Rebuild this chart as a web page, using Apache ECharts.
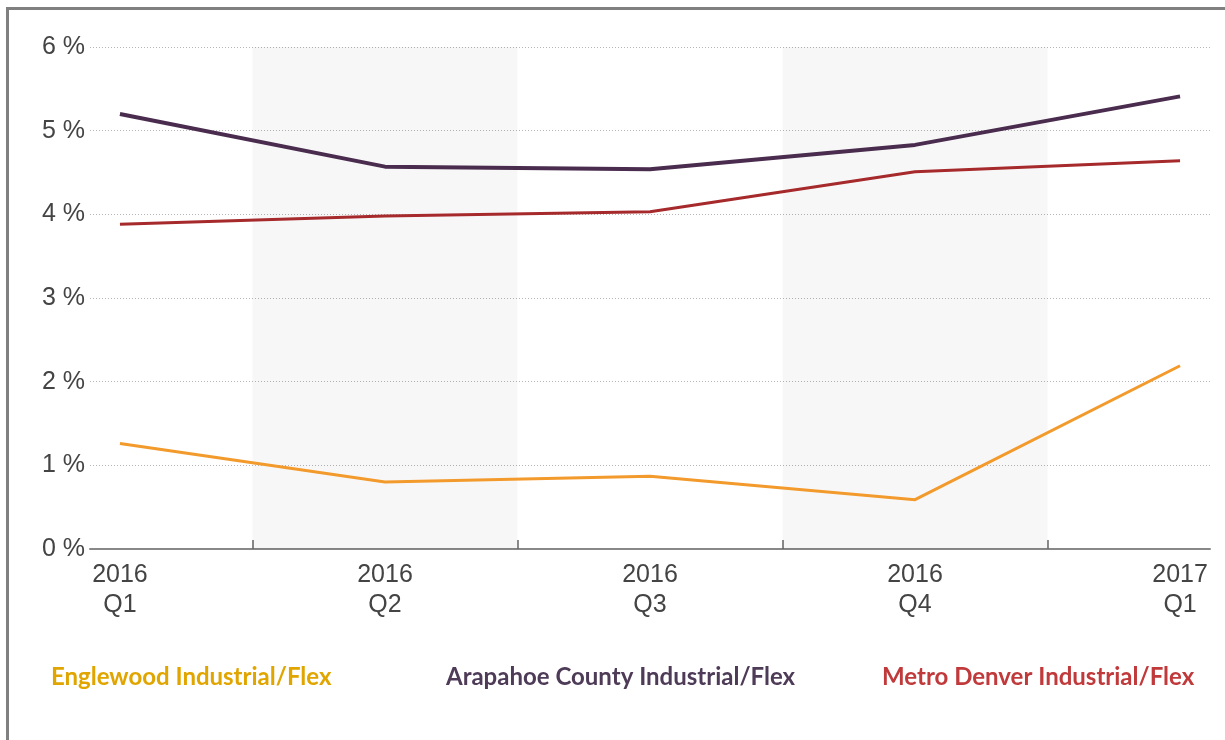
<!DOCTYPE html>
<html>
<head>
<meta charset="utf-8">
<script src="https://cdn.jsdelivr.net/npm/echarts@6/dist/echarts.min.js"></script>
<style>
html,body{margin:0;padding:0;background:#fff;}
#frame{position:absolute;left:6px;top:7px;width:1219px;height:733px;border-left:3px solid #808080;border-top:3px solid #808080;box-sizing:border-box;}
#chart{position:absolute;left:0;top:0;width:1225px;height:740px;}
</style>
</head>
<body>
<div id="frame"></div>
<div id="chart"></div>
<script>
// Data
const categories = ['2016\nQ1', '2016\nQ2', '2016\nQ3', '2016\nQ4', '2017\nQ1'];
const englewood = [1.26, 0.80, 0.87, 0.59, 2.19];
const arapahoe = [5.20, 4.57, 4.54, 4.83, 5.41];
const metroDenver = [3.88, 3.98, 4.03, 4.51, 4.64];
const seriesNames = ['Englewood Industrial/Flex', 'Arapahoe County Industrial/Flex', 'Metro Denver Industrial/Flex'];
const yTicks = [0, 1, 2, 3, 4, 5, 6];
const shadedBands = [[0.5, 1.5], [2.5, 3.5]];
const tickPositions = [0.5, 1.5, 2.5, 3.5];

const lineColors = ['#f39a2c', '#4a2c4e', '#a6292b'];
const legendColors = ['#e1a500', '#4e3b57', '#c0393b'];

const toPairs = arr => arr.map((v, i) => [i, v]);
const chart = echarts.init(document.getElementById('chart'));

const legendLefts = [41, 436, 872];
chart.setOption({
  animation: false,
  grid: { left: 90, right: 15, top: 47, bottom: 191, containLabel: false },
  xAxis: {
    type: 'value',
    min: -0.113,
    max: 4.113,
    splitLine: { show: false },
    axisLine: { show: true, lineStyle: { color: '#888', width: 2 } },
    axisTick: { show: true, inside: true, length: 9, customValues: tickPositions, lineStyle: { color: '#666', width: 1.5 } },
    axisLabel: {
      customValues: categories.map((c, i) => i),
      formatter: v => categories[Math.round(v)],
      color: '#444', fontSize: 25, lineHeight: 30, margin: 11,
      fontFamily: 'Liberation Sans, Arial, sans-serif'
    }
  },
  yAxis: {
    type: 'value', min: 0, max: 6, interval: 1,
    axisLine: { show: false }, axisTick: { show: false },
    splitLine: { show: true, lineStyle: { color: '#b5b5b5', type: [1, 2], width: 1 } },
    axisLabel: {
      formatter: v => yTicks.includes(v) ? v + ' %' : '',
      color: '#444', fontSize: 25, margin: 5,
      fontFamily: 'Liberation Sans, Arial, sans-serif'
    }
  },
  legend: seriesNames.map((n, i) => ({
    data: [{ name: n, textStyle: { color: legendColors[i] } }],
    left: legendLefts[i], top: 660, icon: 'none', itemWidth: 0, itemHeight: 0, itemGap: 0,
    selectedMode: false,
    textStyle: { fontSize: 24, fontWeight: 'bold', fontFamily: 'Lato, sans-serif' }
  })),
  series: [
    {
      name: seriesNames[0], type: 'line', data: toPairs(englewood),
      showSymbol: false, lineStyle: { color: lineColors[0], width: 3 }, itemStyle: { color: lineColors[0] },
      markArea: {
        silent: true,
        itemStyle: { color: 'rgba(0,0,0,0.03)' },
        data: shadedBands.map(b => [{ xAxis: b[0] }, { xAxis: b[1] }])
      }
    },
    {
      name: seriesNames[1], type: 'line', data: toPairs(arapahoe),
      showSymbol: false, lineStyle: { color: lineColors[1], width: 4 }, itemStyle: { color: lineColors[1] }
    },
    {
      name: seriesNames[2], type: 'line', data: toPairs(metroDenver),
      showSymbol: false, lineStyle: { color: lineColors[2], width: 3 }, itemStyle: { color: lineColors[2] }
    }
  ]
});
</script>
</body>
</html>
